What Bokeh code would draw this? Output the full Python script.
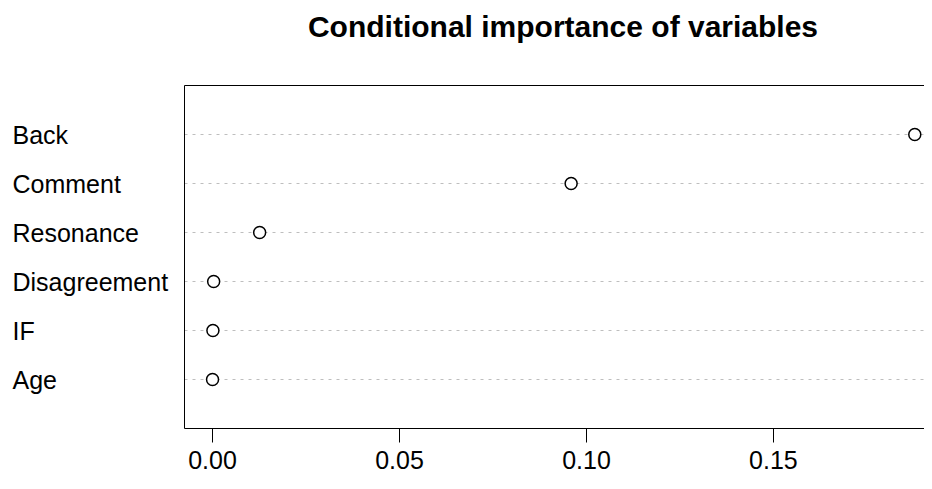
from bokeh.plotting import figure
from bokeh.models import Range1d, FixedTicker, LinearAxis, ColumnDataSource
from bokeh.layouts import row, column
from bokeh.core.properties import value
from bokeh.embed import file_html
from bokeh.resources import INLINE

# ---- data ----
variables = ["Back", "Comment", "Resonance", "Disagreement", "IF", "Age"]
importance = [0.1878, 0.0959, 0.0126, 0.0003, 0.0001, 0.0000]
x_ticks = [0.00, 0.05, 0.10, 0.15]
x_tick_labels = ["0.00", "0.05", "0.10", "0.15"]
title_text = "Conditional importance of variables"

n = len(variables)
positions = [n - i for i in range(n)]  # Back at top

FONT = "Liberation Sans"
W = 924
TITLE_H = 85
H = 481 - TITLE_H
BOTTOM = 53
LABEL_W = 184


def bare(fig):
    fig.axis.visible = False
    fig.grid.visible = False
    fig.outline_line_color = None
    fig.title.visible = False
    return fig


# ---- title strip ----
tfig = bare(figure(width=W, height=TITLE_H, output_backend="svg",
                   toolbar_location=None, x_range=Range1d(0, W),
                   y_range=Range1d(TITLE_H, 0), min_border=0))
tfig.text(x=[562.5], y=[26], text=[title_text], text_font=value(FONT),
          text_font_size="30px", text_font_style="bold", text_align="center",
          text_baseline="alphabetic", text_color="black")

y_range = Range1d(0, n + 1)

# ---- left panel with category labels ----
lab = bare(figure(width=LABEL_W, height=H, output_backend="svg",
                  toolbar_location=None, x_range=Range1d(0, LABEL_W),
                  y_range=y_range, min_border_left=0, min_border_right=0,
                  min_border_top=0, min_border_bottom=BOTTOM))
src = ColumnDataSource(dict(y=positions, text=variables))
lab.text(x=12, y="y", text="text", source=src, text_font=value(FONT),
         text_font_size="25px", text_align="left", text_baseline="middle",
         text_color="black")

# ---- main dot chart ----
p = figure(width=W - LABEL_W, height=H, output_backend="svg",
           toolbar_location=None,
           x_range=Range1d(-0.0075, 0.1904), y_range=y_range,
           min_border_left=0, min_border_right=0, min_border_top=0,
           min_border_bottom=BOTTOM)
p.outline_line_color = None
p.title.visible = False

p.xgrid.visible = False
p.ygrid.ticker = FixedTicker(ticks=positions)
p.ygrid.grid_line_color = "#bebebe"
p.ygrid.grid_line_dash = "3 5"
p.ygrid.grid_line_width = 1

xa = p.xaxis[0]
xa.ticker = FixedTicker(ticks=x_ticks)
xa.major_label_overrides = {t: l for t, l in zip(x_ticks, x_tick_labels)}
xa.axis_line_color = "black"
xa.axis_line_width = 1
xa.major_tick_in = 0
xa.major_tick_out = 14
xa.major_tick_line_color = "black"
xa.minor_tick_line_color = None
xa.minor_tick_out = 0
xa.major_label_standoff = 8
xa.major_label_text_font = FONT
xa.major_label_text_font_size = "25px"
xa.major_label_text_color = "black"

ya = p.yaxis[0]
ya.ticker = FixedTicker(ticks=[])
ya.major_tick_line_color = None
ya.minor_tick_line_color = None
ya.major_tick_out = 0
ya.minor_tick_out = 0
ya.major_label_standoff = 0
ya.major_label_text_font_size = "0px"
ya.axis_line_color = "black"
ya.axis_line_width = 1

top = LinearAxis(ticker=FixedTicker(ticks=[]), major_tick_line_color=None,
                 minor_tick_line_color=None, major_tick_out=0, minor_tick_out=0,
                 major_label_standoff=0, major_label_text_font_size="0px",
                 axis_line_color="black", axis_line_width=1)
p.add_layout(top, "above")

p.scatter(importance, positions, marker="circle", size=12,
          fill_color="white", line_color="black", line_width=1.5)

layout = column(tfig, row(lab, p))
open("out.html", "w").write(file_html(layout, INLINE))
